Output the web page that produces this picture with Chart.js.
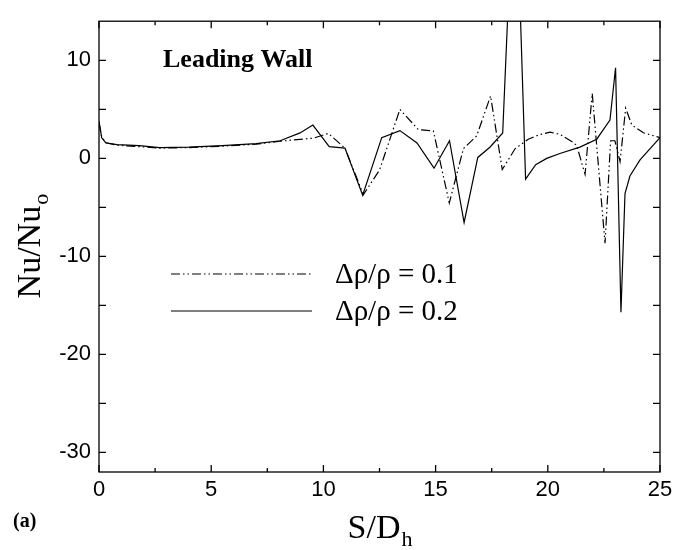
<!DOCTYPE html>
<html>
<head>
<meta charset="utf-8">
<script src="https://cdn.jsdelivr.net/npm/chart.js@4/dist/chart.umd.min.js"></script>
<style>
  html, body { margin: 0; padding: 0; background: #fff; }
  canvas { display: block; }
</style>
</head>
<body>
<canvas id="main-chart" width="678" height="550"></canvas>
<script>
// S/D_h positions and Nu/Nu_o values
const x_01 = [0, 0.12, 0.3, 0.8, 1.8, 2.7, 4, 5.5, 7, 8.07, 8.96, 9.55, 10.22, 10.96, 11.78, 12.5, 13.41,
    14.23, 14.9, 15.61, 16.24, 16.83, 17.45, 17.97, 18.54, 19.13, 19.6, 20.1, 20.54, 21.14, 21.29,
    21.66, 21.98, 22.55, 22.8, 22.99, 23.22, 23.47, 23.74, 24.26, 25];
const nu_01 = [3.6, 2.2, 1.6, 1.35, 1.2, 1.05, 1.1, 1.25, 1.45, 1.75, 1.95, 2.06, 2.55, 1.05, -3.7, -1.2, 5.0,
    2.94, 2.8, -4.55, 1.0, 2.29, 6.37, -1.14, 0.98, 1.96, 2.4, 2.68, 2.45, 1.63, 1.3,
    -1.63, 6.63, -8.66, 1.8, 1.8, -0.33, 5.13, 3.43, 2.61, 2.12];

const x_02 = [0, 0.12, 0.3, 0.8, 1.8, 2.7, 4, 5.5, 7, 8.07, 8.96, 9.53, 10.26, 10.96, 11.75, 12.6, 13.41,
    14.17, 14.93, 15.62, 16.27, 16.88, 17.42, 17.99, 18.54, 19.01, 19.46, 19.95, 20.54, 21.43, 22.18,
    22.77, 23.02, 23.26, 23.44, 23.66, 24.11, 25];
const nu_02 = [3.8, 2.1, 1.6, 1.4, 1.3, 1.1, 1.15, 1.3, 1.5, 1.8, 2.6, 3.4, 1.2, 1.05, -3.76, 2.12, 2.84,
    1.58, -1.0, 1.8, -6.54, 0.1, 1.14, 2.6, 32, -2.12, -0.65, 0.0, 0.5, 1.15, 1.96,
    3.92, 9.25, -15.7, -3.6, -1.8, -0.16, 2.12];

const x_ticks = [0, 5, 10, 15, 20, 25];
const y_ticks = [-30, -20, -10, 0, 10];
const legend_labels = ['\u0394\u03c1/\u03c1 = 0.1', '\u0394\u03c1/\u03c1 = 0.2'];

const dash_dot_dot = [9, 3, 1.5, 3, 1.5, 3];

const to_points = (xs, ys) => xs.map((x, i) => ({ x: x, y: ys[i] }));

const frame_plugin = {
    id: 'frame',
    afterDraw(chart) {
        const ctx = chart.ctx;
        const a = chart.chartArea;
        const xs = chart.scales.x;
        const ys = chart.scales.y;
        ctx.save();
        ctx.strokeStyle = '#000';
        ctx.lineWidth = 1.3;
        ctx.setLineDash([]);
        ctx.strokeRect(a.left, a.top, a.right - a.left, a.bottom - a.top);

        // inward ticks on all four sides
        ctx.beginPath();
        for (let v = 0; v <= 25; v += 2.5) {
            const px = xs.getPixelForValue(v);
            const len = (v % 5 === 0) ? 7 : 4;
            ctx.moveTo(px, a.bottom); ctx.lineTo(px, a.bottom - len);
            ctx.moveTo(px, a.top); ctx.lineTo(px, a.top + len);
        }
        for (let v = -30; v <= 10; v += 5) {
            const py = ys.getPixelForValue(v);
            ctx.moveTo(a.left, py); ctx.lineTo(a.left + 7, py);
            ctx.moveTo(a.right, py); ctx.lineTo(a.right - 7, py);
        }
        ctx.stroke();

        ctx.fillStyle = '#000';
        // x axis title S/D_h
        ctx.textBaseline = 'alphabetic';
        ctx.font = '34px "Liberation Serif"';
        const main_x = 'S/D';
        const wx = ctx.measureText(main_x).width;
        ctx.font = '22px "Liberation Serif"';
        const wh = ctx.measureText('h').width;
        const cx = (a.left + a.right) / 2;
        let sx = cx - (wx + wh) / 2;
        ctx.font = '34px "Liberation Serif"';
        ctx.textAlign = 'left';
        ctx.fillText(main_x, sx, 538);
        ctx.font = '22px "Liberation Serif"';
        ctx.fillText('h', sx + wx + 1, 546);

        // y axis title Nu/Nu_o
        ctx.save();
        ctx.translate(40, (a.top + a.bottom) / 2);
        ctx.rotate(-Math.PI / 2);
        ctx.font = '34px "Liberation Serif"';
        const main_y = 'Nu/Nu';
        const wy = ctx.measureText(main_y).width;
        ctx.font = '22px "Liberation Serif"';
        const wo = ctx.measureText('o').width;
        sx = -(wy + wo) / 2;
        ctx.font = '34px "Liberation Serif"';
        ctx.fillText(main_y, sx, 0);
        ctx.font = '22px "Liberation Serif"';
        ctx.fillText('o', sx + wy + 1, 8);
        ctx.restore();

        // annotations
        ctx.font = 'bold 26px "Liberation Serif"';
        ctx.fillText('Leading Wall', 163, 67);
        ctx.font = 'bold 20px "Liberation Serif"';
        ctx.fillText('(a)', 13, 527);

        // legend
        const rows = [274, 311];
        chart.data.datasets.forEach((ds, i) => {
            ctx.beginPath();
            ctx.lineWidth = ds.borderWidth;
            ctx.setLineDash(ds.borderDash || []);
            ctx.moveTo(171, rows[i]);
            ctx.lineTo(312, rows[i]);
            ctx.stroke();
            ctx.setLineDash([]);
            ctx.font = '29px "Liberation Serif"';
            ctx.textBaseline = 'middle';
            ctx.fillText(legend_labels[i], 335, rows[i] + 1);
            ctx.textBaseline = 'alphabetic';
        });
        ctx.restore();
    }
};

const config = {
    type: 'scatter',
    data: {
        datasets: [{
            label: legend_labels[0],
            data: to_points(x_01, nu_01),
            showLine: true,
            borderColor: '#000',
            borderWidth: 1.2,
            borderDash: dash_dot_dot,
            pointRadius: 0,
            tension: 0,
        }, {
            label: legend_labels[1],
            data: to_points(x_02, nu_02),
            showLine: true,
            borderColor: '#000',
            borderWidth: 1.2,
            pointRadius: 0,
            tension: 0,
        }]
    },
    options: {
        responsive: false,
        animation: false,
        devicePixelRatio: 1,
        layout: {
            padding: { top: 4, right: 18, left: 0, bottom: 0 }
        },
        plugins: {
            legend: { display: false },
            tooltip: { enabled: false },
        },
        scales: {
            x: {
                type: 'linear',
                min: 0,
                max: 25,
                afterBuildTicks: (s) => { s.ticks = x_ticks.map(v => ({ value: v })); },
                afterFit: (s) => { s.height = 78; },
                grid: { display: false, drawTicks: false },
                border: { display: false },
                ticks: {
                    color: '#000',
                    padding: 5,
                    font: { family: '"Liberation Sans"', size: 22 },
                    maxRotation: 0,
                },
            },
            y: {
                type: 'linear',
                min: -32,
                max: 14,
                afterBuildTicks: (s) => { s.ticks = y_ticks.map(v => ({ value: v })); },
                afterFit: (s) => { s.width = 99; },
                grid: { display: false, drawTicks: false },
                border: { display: false },
                ticks: {
                    color: '#000',
                    padding: 8,
                    font: { family: '"Liberation Sans"', size: 22 },
                },
            },
        }
    },
    plugins: [frame_plugin],
};

const myChart = new Chart(document.getElementById('main-chart'), config);
</script>
</body>
</html>
